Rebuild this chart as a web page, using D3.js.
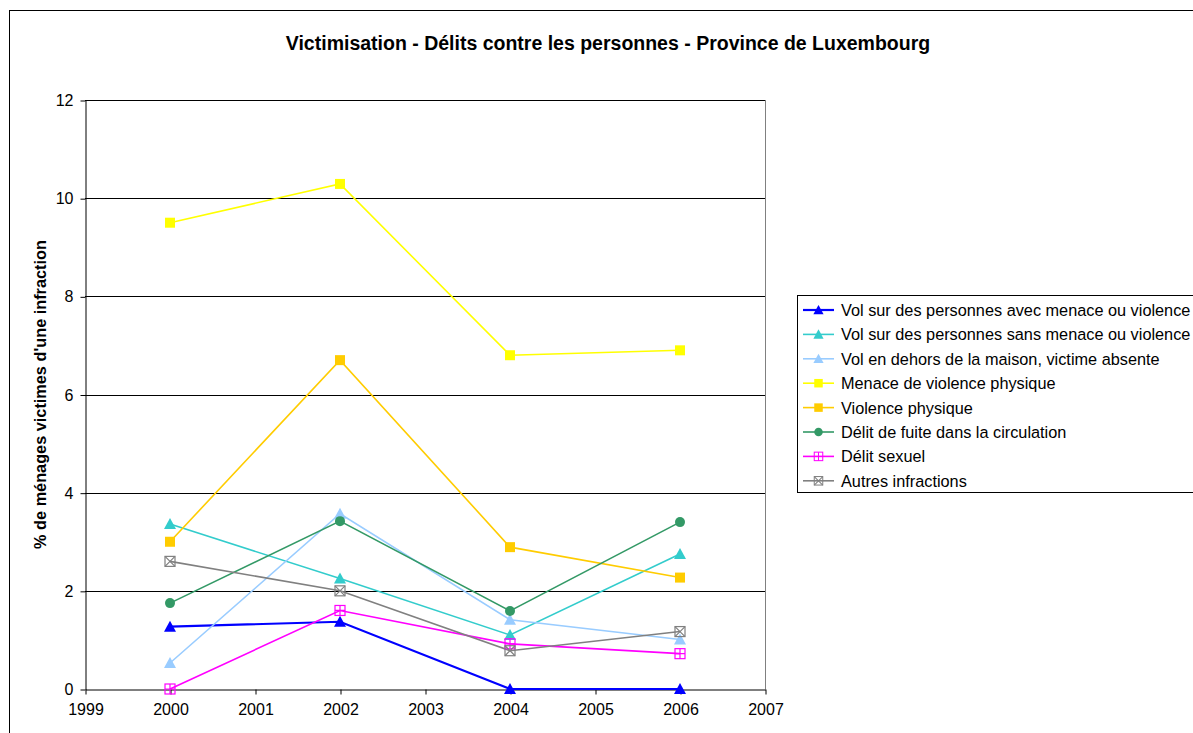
<!DOCTYPE html>
<html>
<head>
<meta charset="utf-8">
<script src="https://cdn.jsdelivr.net/npm/d3@7/dist/d3.min.js"></script>
<style>
	body { margin: 0; background: #fff; }
	svg { font-family: "Liberation Sans", Arial, sans-serif; }
</style>
</head>
<body>
<svg id="chart" width="1193" height="733"></svg>
<script>
var years = [2000, 2002, 2004, 2006];
var yTicks = [0, 2, 4, 6, 8, 10, 12];
var xTicks = [1999, 2000, 2001, 2002, 2003, 2004, 2005, 2006, 2007];

var volAvecMenace = [1.27, 1.37, 0, 0];
var volSansMenace = [3.36, 2.25, 1.10, 2.75];
var volDehors = [0.53, 3.57, 1.41, 1.01];
var menaceViolence = [9.5, 10.29, 6.8, 6.9];
var violencePhysique = [3.0, 6.7, 2.89, 2.27];
var deliteFuite = [1.75, 3.42, 1.59, 3.40];
var delitSexuel = [0, 1.6, 0.92, 0.72];
var autres = [2.6, 2.0, 0.78, 1.17];

var series = [
	{ name: "Vol sur des personnes avec menace ou violence", values: volAvecMenace, color: "#0000ff", marker: "triangle", width: 2.2 },
	{ name: "Vol sur des personnes sans menace ou violence", values: volSansMenace, color: "#33cccc", marker: "triangle", width: 1.6 },
	{ name: "Vol en dehors de la maison, victime absente", values: volDehors, color: "#99ccff", marker: "triangle", width: 1.6 },
	{ name: "Menace de violence physique", values: menaceViolence, color: "#ffff00", marker: "square", width: 1.6 },
	{ name: "Violence physique", values: violencePhysique, color: "#ffcc00", marker: "square", width: 1.6 },
	{ name: "Délit de fuite dans la circulation", values: deliteFuite, color: "#339966", marker: "circle", width: 1.6 },
	{ name: "Délit sexuel", values: delitSexuel, color: "#ff00ff", marker: "plus", width: 1.6 },
	{ name: "Autres infractions", values: autres, color: "#808080", marker: "cross", width: 1.6 }
];

var svg = d3.select('#chart');
var plot = { left: 85, right: 765, top: 100, bottom: 689 };

var x = d3.scaleLinear().domain([1999, 2007]).range([plot.left, plot.right]);
var y = d3.scaleLinear().domain([0, 12]).range([plot.bottom, plot.top]);

// outer chart border
svg.append('rect')
	.attr('x', 9.5).attr('y', 10.5)
	.attr('width', 1300).attr('height', 800)
	.attr('fill', 'none').attr('stroke', '#000').attr('stroke-width', 1);

svg.append('text')
	.attr('x', 608).attr('y', 50)
	.attr('text-anchor', 'middle')
	.style('font-size', '19.5px').style('font-weight', 'bold')
	.text('Victimisation - Délits contre les personnes - Province de Luxembourg');

// gridlines
svg.append('g').selectAll('line')
	.data(yTicks.filter(function(d) { return d > 0; }))
	.join('line')
	.attr('x1', plot.left).attr('x2', plot.right)
	.attr('y1', function(d) { return Math.round(y(d)) + 0.5; })
	.attr('y2', function(d) { return Math.round(y(d)) + 0.5; })
	.attr('stroke', '#000').attr('stroke-width', 1);

// plot area right border
svg.append('line')
	.attr('x1', plot.right + 0.5).attr('x2', plot.right + 0.5)
	.attr('y1', plot.top).attr('y2', plot.bottom)
	.attr('stroke', '#808080');

var yAxis = svg.append('g')
	.attr('transform', 'translate(' + (plot.left + 0.5) + ',0.5)')
	.call(d3.axisLeft(y).tickValues(yTicks).tickSize(5).tickPadding(7).tickSizeOuter(0));
var xAxis = svg.append('g')
	.attr('transform', 'translate(0.5,' + (plot.bottom + 0.5) + ')')
	.call(d3.axisBottom(x).tickValues(xTicks).tickFormat(d3.format('d')).tickSize(5).tickPadding(9).tickSizeOuter(0));
[yAxis, xAxis].forEach(function(a) {
	a.select('.domain').attr('stroke', '#000');
	a.selectAll('.tick line').attr('stroke', '#000');
	a.selectAll('.tick text')
		.attr('fill', '#000')
		.style('font-family', '"Liberation Sans", Arial, sans-serif')
		.style('font-size', '16px');
});

svg.append('text')
	.attr('transform', 'translate(46,' + ((plot.top + plot.bottom) / 2) + ') rotate(-90)')
	.attr('text-anchor', 'middle')
	.style('font-size', '16.3px').style('font-weight', 'bold')
	.text("% de ménages victimes d'une infraction");

function drawMarker(g, type, color) {
	if (type === 'triangle') {
		g.append('path').attr('d', 'M0,-6L6,5L-6,5Z').attr('fill', color);
	} else if (type === 'square') {
		g.append('rect').attr('x', -5).attr('y', -5).attr('width', 10).attr('height', 10).attr('fill', color);
	} else if (type === 'circle') {
		g.append('circle').attr('r', 5).attr('fill', color);
	} else if (type === 'plus') {
		g.append('rect').attr('x', -5).attr('y', -5).attr('width', 10).attr('height', 10)
			.attr('fill', 'none').attr('stroke', color).attr('stroke-width', 1.2);
		g.append('path').attr('d', 'M0,-5V5M-5,0H5').attr('stroke', color).attr('stroke-width', 1.2);
	} else if (type === 'cross') {
		g.append('rect').attr('x', -5).attr('y', -5).attr('width', 10).attr('height', 10)
			.attr('fill', 'none').attr('stroke', color).attr('stroke-width', 1.2);
		g.append('path').attr('d', 'M-5,-5L5,5M-5,5L5,-5').attr('stroke', color).attr('stroke-width', 1.2);
	}
}

var line = d3.line()
	.x(function(d, i) { return x(years[i]); })
	.y(function(d) { return y(d); });

var lines = svg.append('g');
series.forEach(function(s) {
	lines.append('path')
		.attr('d', line(s.values))
		.attr('fill', 'none')
		.attr('stroke', s.color)
		.attr('stroke-width', s.width);
});
series.forEach(function(s) {
	s.values.forEach(function(v, i) {
		var g = lines.append('g').attr('transform', 'translate(' + x(years[i]) + ',' + y(v) + ')');
		drawMarker(g, s.marker, s.color);
	});
});

// legend
var legend = svg.append('g');
legend.append('rect')
	.attr('x', 797.5).attr('y', 295.5)
	.attr('width', 420).attr('height', 197)
	.attr('fill', '#fff').attr('stroke', '#000');
series.forEach(function(s, i) {
	var ly = 310 + i * 24.4;
	legend.append('line')
		.attr('x1', 803).attr('x2', 834).attr('y1', ly).attr('y2', ly)
		.attr('stroke', s.color).attr('stroke-width', s.width);
	var g = legend.append('g').attr('transform', 'translate(818.5,' + ly + ') scale(0.85)');
	drawMarker(g, s.marker, s.color);
	legend.append('text')
		.attr('x', 841).attr('y', ly + 6)
		.style('font-size', '16.3px')
		.text(s.name);
});
</script>
</body>
</html>
